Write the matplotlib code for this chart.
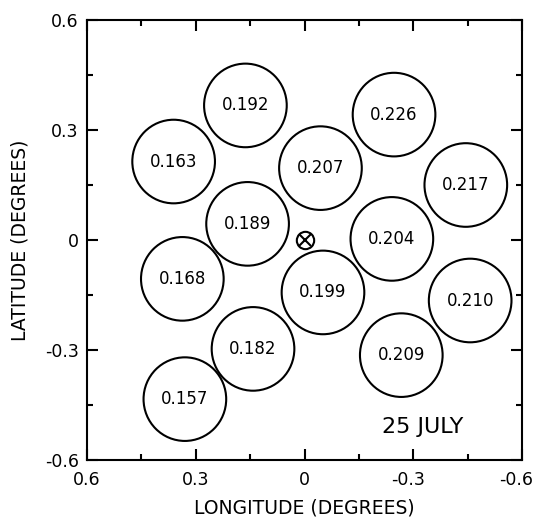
import matplotlib
matplotlib.use("Agg")
import matplotlib.pyplot as plt
import matplotlib.transforms as mtransforms
from matplotlib.patches import Circle
from matplotlib.ticker import FixedLocator

# beam footprint centres (degrees) and measured values
lon = [0.361, 0.163, -0.247, -0.044, -0.445, 0.157, -0.241,
       0.337, -0.051, -0.457, 0.142, -0.267, 0.330]
lat = [0.214, 0.367, 0.342, 0.196, 0.150, 0.044, 0.003,
       -0.106, -0.143, -0.165, -0.297, -0.314, -0.434]
values = ["0.163", "0.192", "0.226", "0.207", "0.217", "0.189", "0.204",
          "0.168", "0.199", "0.210", "0.182", "0.209", "0.157"]

ticks = [0.6, 0.3, 0.0, -0.3, -0.6]
tick_labels = ["0.6", "0.3", "0", "-0.3", "-0.6"]
minor_ticks = [0.45, 0.15, -0.15, -0.45]

plt.rcParams['font.family'] = ['DejaVu Sans']
plt.rcParams['axes.unicode_minus'] = False

fig = plt.figure(figsize=(5.35, 5.18), dpi=100)
ax = fig.add_axes([87 / 535, 58 / 518, 435 / 535, 440 / 518])

radius = 0.114
for x, y, v in zip(lon, lat, values):
    ax.add_patch(Circle((x, y), radius, fill=False, edgecolor='black', lw=1.5))
    ax.text(x, y, v, ha='center', va='center', fontsize=12)

# centre of the grid
ax.plot([0], [0], marker='o', markersize=12.5, mfc='none', mec='black', mew=1.5)
ax.plot([0], [0], marker='x', markersize=8, mec='black', mew=1.5)

ax.text(-0.327, -0.51, "25 JULY", ha='center', va='center', fontsize=16)

ax.set_xlim(0.6, -0.6)
ax.set_ylim(-0.6, 0.6)

ax.set_xticks(ticks)
ax.set_xticklabels(tick_labels)
ax.set_yticks(ticks)
ax.set_yticklabels(tick_labels)
ax.xaxis.set_minor_locator(FixedLocator(minor_ticks))
ax.yaxis.set_minor_locator(FixedLocator(minor_ticks))

ax.tick_params(which='both', direction='in', top=True, right=True, width=1.5)
ax.tick_params(which='major', length=8, labelsize=12.5)
ax.tick_params(axis='x', which='major', pad=8)
ax.tick_params(axis='y', which='major', pad=6)
ax.tick_params(which='minor', length=4)

# negative x labels: centre the digits on the tick, not the minus sign
shift = mtransforms.ScaledTranslation(-4 / 72, 0, fig.dpi_scale_trans)
for lbl in ax.get_xticklabels():
    if lbl.get_text().startswith('-'):
        lbl.set_transform(lbl.get_transform() + shift)

for sp in ax.spines.values():
    sp.set_linewidth(1.5)

ax.set_xlabel("LONGITUDE (DEGREES)", fontsize=13.5, va='baseline')
ax.set_ylabel("LATITUDE (DEGREES)", fontsize=13.5, va='center')
ax.xaxis.set_label_coords(0.5, -0.1227)
ax.yaxis.set_label_coords(-0.154, 0.5)

fig.savefig("out.png", dpi=100)
